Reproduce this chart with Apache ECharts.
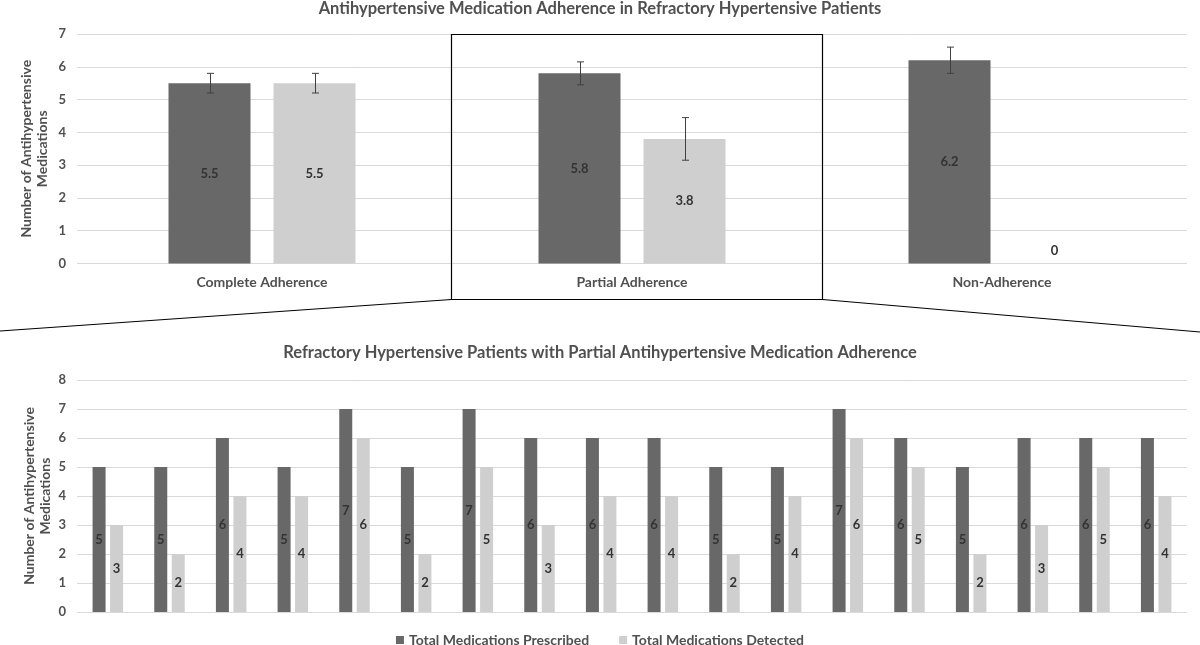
<!DOCTYPE html>
<html>
<head>
<meta charset="utf-8">
<script src="https://cdn.jsdelivr.net/npm/echarts@6/dist/echarts.min.js"></script>
<style>
html,body{margin:0;padding:0;background:#fff;}
#chart{width:1200px;height:645px;}
</style>
</head>
<body>
<div id="chart"></div>
<script>
// ---- data ----
const topCategories = ['Complete Adherence', 'Partial Adherence', 'Non-Adherence'];
const topPrescribed = [5.5, 5.8, 6.2];
const topDetected = [5.5, 3.8, 0];
const topPrescribedErr = [0.3, 0.35, 0.4];
const topDetectedErr = [0.3, 0.65, 0];
const topYTicks = [0, 1, 2, 3, 4, 5, 6, 7];

const bottomCategories = ['1','2','3','4','5','6','7','8','9','10','11','12','13','14','15','16','17','18'];
const bottomPrescribed = [5, 5, 6, 5, 7, 5, 7, 6, 6, 6, 5, 5, 7, 6, 5, 6, 6, 6];
const bottomDetected = [3, 2, 4, 4, 6, 2, 5, 3, 4, 4, 2, 4, 6, 5, 2, 3, 5, 4];
const bottomYTicks = [0, 1, 2, 3, 4, 5, 6, 7, 8];

const seriesNames = ['Total Medications Prescribed', 'Total Medications Detected'];
const titles = ['Antihypertensive Medication Adherence in Refractory Hypertensive Patients',
                'Refractory Hypertensive Patients with Partial Antihypertensive Medication Adherence'];
const yAxisTitle = 'Number of Antihypertensive\nMedications';

// ---- styles ----
const FONT = 'Lato';
const DARK = '#686868';
const LIGHT = '#cfcfcf';
const TXT = '#505050';
const LBL = '#333333';
const GRID = '#d9d9d9';
const TOP_BW = 82, TOP_GAP = 23;
const BOT_BW = 13, BOT_GAP = 4.5;

const chart = echarts.init(document.getElementById('chart'));

function errSeries(values, errs, xi, yi, sign) {
  return {
    type: 'custom',
    xAxisIndex: xi, yAxisIndex: yi,
    silent: true, z: 5,
    data: values.map((v, i) => [i, v, errs[i]]),
    renderItem: function (params, api) {
      const e = api.value(2);
      if (!e) return null;
      const v = api.value(1);
      const off = sign * (TOP_BW + TOP_GAP) / 2;
      const hi = api.coord([api.value(0), v + e]);
      const lo = api.coord([api.value(0), v - e]);
      const x = Math.round(hi[0] + off) + 0.5;
      const cap = 3.5;
      const st = { stroke: '#404040', lineWidth: 1 };
      return { type: 'group', children: [
        { type: 'line', shape: { x1: x, y1: hi[1], x2: x, y2: lo[1] }, style: st },
        { type: 'line', shape: { x1: x - cap, y1: hi[1], x2: x + cap, y2: hi[1] }, style: st },
        { type: 'line', shape: { x1: x - cap, y1: lo[1], x2: x + cap, y2: lo[1] }, style: st }
      ]};
    }
  };
}

const labelBase = { show: true, position: 'inside', color: LBL, fontFamily: FONT, fontWeight: 'bold', fontSize: 13 };

const yAxisCommon = (ticks, gi, nameGap) => ({
  type: 'value', gridIndex: gi,
  min: ticks[0], max: ticks[ticks.length - 1], interval: ticks[1] - ticks[0],
  axisLine: { show: false }, axisTick: { show: false },
  axisLabel: { color: TXT, fontFamily: FONT, fontWeight: 'bold', fontSize: 13, margin: 11 },
  splitLine: { lineStyle: { color: GRID, width: 1 } },
  name: yAxisTitle, nameLocation: 'middle', nameRotate: 90, nameGap: nameGap, nameMoveOverlap: false,
  nameTextStyle: { color: TXT, fontFamily: FONT, fontWeight: 'bold', fontSize: 14, lineHeight: 16, align: 'center' }
});

const option = {
  animation: false,
  backgroundColor: '#fff',
  title: [
    { text: titles[0], left: 'center', top: 0, padding: 0, textStyle: { color: TXT, fontFamily: FONT, fontWeight: 'bold', fontSize: 16.5 } },
    { text: titles[1], left: 'center', top: 344, padding: 0, textStyle: { color: TXT, fontFamily: FONT, fontWeight: 'bold', fontSize: 16.5 } }
  ],
  legend: {
    data: seriesNames, left: 'center', top: 633, padding: 0,
    icon: 'rect', itemWidth: 8, itemHeight: 8, itemGap: 30,
    textStyle: { color: TXT, fontFamily: FONT, fontWeight: 'bold', fontSize: 14 }
  },
  grid: [
    { left: 77, top: 34, width: 1110, height: 229.5, outerBoundsMode: 'none', containLabel: false },
    { left: 77, top: 380, width: 1110, height: 232, outerBoundsMode: 'none', containLabel: false }
  ],
  xAxis: [
    { type: 'category', gridIndex: 0, data: topCategories,
      axisLine: { show: false }, axisTick: { show: false },
      axisLabel: { color: TXT, fontFamily: FONT, fontWeight: 'bold', fontSize: 14, margin: 12 } },
    { type: 'category', gridIndex: 1, data: bottomCategories,
      axisLine: { show: false }, axisTick: { show: false }, axisLabel: { show: false } }
  ],
  yAxis: [ yAxisCommon(topYTicks, 0, 27), yAxisCommon(bottomYTicks, 1, 24) ],
  series: [
    { name: seriesNames[0], type: 'bar', xAxisIndex: 0, yAxisIndex: 0, data: topPrescribed,
      barWidth: TOP_BW, barGap: (TOP_GAP / TOP_BW * 100) + '%',
      itemStyle: { color: DARK }, label: labelBase },
    { name: seriesNames[1], type: 'bar', xAxisIndex: 0, yAxisIndex: 0,
      data: topDetected.map(v => v === 0 ? { value: v, label: { position: 'top', distance: 6 } } : v),
      barWidth: TOP_BW, itemStyle: { color: LIGHT }, label: labelBase },
    errSeries(topPrescribed, topPrescribedErr, 0, 0, -1),
    errSeries(topDetected, topDetectedErr, 0, 0, 1),
    { name: seriesNames[0], type: 'bar', xAxisIndex: 1, yAxisIndex: 1, data: bottomPrescribed,
      barWidth: BOT_BW, barGap: (BOT_GAP / BOT_BW * 100) + '%',
      itemStyle: { color: DARK }, label: labelBase },
    { name: seriesNames[1], type: 'bar', xAxisIndex: 1, yAxisIndex: 1, data: bottomDetected,
      barWidth: BOT_BW, itemStyle: { color: LIGHT }, label: labelBase }
  ],
  graphic: [
    { type: 'rect', shape: { x: 451.5, y: 34.5, width: 371, height: 265 },
      style: { fill: 'none', stroke: '#000', lineWidth: 1.2 }, z: 10 },
    { type: 'line', shape: { x1: 451.5, y1: 299.5, x2: 0, y2: 331 }, style: { stroke: '#000', lineWidth: 1.2 }, z: 10 },
    { type: 'line', shape: { x1: 822.5, y1: 299.5, x2: 1200, y2: 332 }, style: { stroke: '#000', lineWidth: 1.2 }, z: 10 }
  ]
};
chart.setOption(option);
</script>
</body>
</html>
